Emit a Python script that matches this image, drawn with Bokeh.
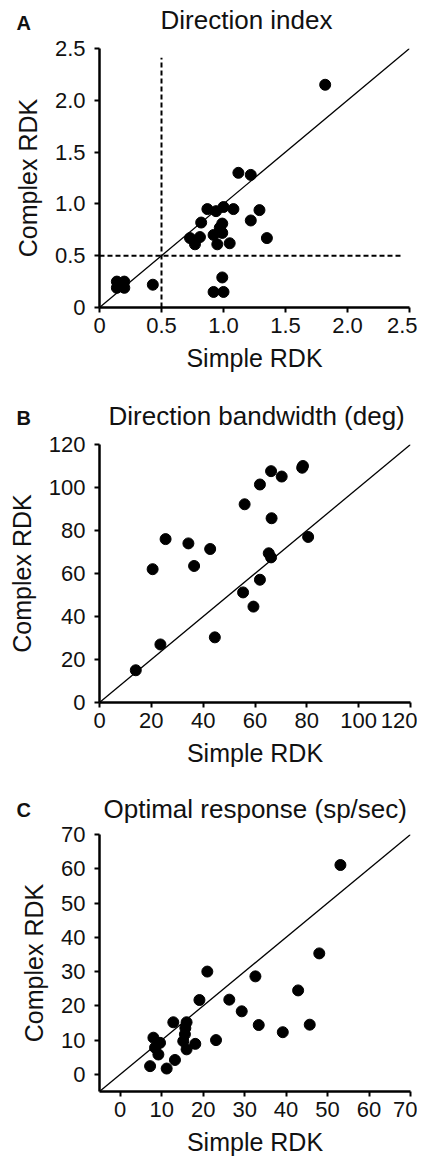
from bokeh.plotting import figure
from bokeh.layouts import column
from bokeh.models import Range1d, FixedTicker, Title
from bokeh.embed import file_html
from bokeh.resources import INLINE

# ---- data ----
A_simple = [1.82, 1.12, 1.22, 0.87, 0.94, 1.00, 1.08, 1.29, 0.82, 0.99, 1.22, 0.97,
            0.73, 0.81, 0.77, 0.92, 0.99, 0.95, 1.05, 1.35, 0.99, 0.92, 1.00, 0.43,
            0.14, 0.20, 0.14, 0.20]
A_complex = [2.15, 1.30, 1.28, 0.95, 0.93, 0.97, 0.95, 0.94, 0.82, 0.81, 0.84, 0.77,
             0.67, 0.68, 0.61, 0.70, 0.72, 0.61, 0.62, 0.67, 0.29, 0.15, 0.15, 0.22,
             0.25, 0.25, 0.19, 0.19]

B_simple = [14.0, 23.5, 20.5, 25.5, 34.3, 36.5, 42.7, 44.5, 55.4, 56.0, 59.4, 61.9,
            61.9, 65.3, 66.2, 66.4, 66.2, 70.3, 78.5, 78.2, 80.5]
B_complex = [15.0, 27.0, 62.0, 76.0, 74.0, 63.5, 71.4, 30.3, 51.2, 92.2, 44.6, 57.1,
             101.4, 69.4, 67.5, 85.7, 107.6, 105.1, 110.0, 109.2, 77.0]

C_simple = [53.1, 48.0, 42.9, 45.7, 39.2, 33.4, 32.6, 29.3, 26.3, 23.1, 21.0, 19.1,
            18.1, 16.0, 15.7, 15.6, 15.2, 16.0, 12.8, 13.2, 11.2, 8.0, 9.6, 8.4, 9.2, 7.2]
C_complex = [61.1, 35.3, 24.5, 14.5, 12.3, 14.4, 28.6, 18.4, 21.8, 10.0, 30.0, 21.7,
             8.9, 15.2, 13.5, 11.7, 9.7, 7.3, 15.2, 4.2, 1.7, 10.7, 9.2, 7.8, 5.8, 2.4]

A_ticks = [0, 0.5, 1.0, 1.5, 2.0, 2.5]
A_labels = ["0", "0.5", "1.0", "1.5", "2.0", "2.5"]
B_ticks = [0, 20, 40, 60, 80, 100, 120]
C_ticks = [0, 10, 20, 30, 40, 50, 60, 70]

titles = ["Direction index", "Direction bandwidth (deg)", "Optimal response (sp/sec)"]
letters = ["A", "B", "C"]

FONT = "Liberation Sans"
W = 417


def make_fig(xr, yr, fw, fh, left, top, bottom, ticks, title, t_offset, t_standoff,
             letter, l_standoff, labels=None):
    p = figure(x_range=Range1d(*xr), y_range=Range1d(*yr),
               frame_width=fw, frame_height=fh,
               min_border_left=left, min_border_right=W - left - fw,
               min_border_top=top, min_border_bottom=bottom,
               output_backend="svg", toolbar_location=None)
    p.outline_line_color = None
    p.xgrid.visible = False
    p.ygrid.visible = False
    # main title (an empty second line keeps the first line high above the frame)
    p.add_layout(Title(text=title + "\n", align="left", offset=t_offset, standoff=t_standoff,
                       text_font=FONT, text_font_size="26px", text_font_style="normal",
                       text_color="#111111"), "above")
    # panel letter (outermost title)
    p.title.text = letter
    p.title.align = "left"
    p.title.offset = -83
    p.title.standoff = l_standoff
    p.title.text_font = FONT
    p.title.text_font_size = "20px"
    p.title.text_font_style = "bold"
    p.title.text_color = "#111111"
    for ax in (p.xaxis[0], p.yaxis[0]):
        ax.ticker = FixedTicker(ticks=ticks)
        if labels is not None:
            ax.major_label_overrides = {t: l for t, l in zip(ticks, labels)}
        ax.axis_line_width = 2.5
        ax.axis_line_color = "black"
        ax.major_tick_line_width = 2
        ax.major_tick_line_color = "black"
        ax.major_tick_out = 5
        ax.major_tick_in = 0
        ax.minor_tick_line_color = None
        ax.major_label_text_font = FONT
        ax.major_label_text_font_size = "22px"
        ax.major_label_text_color = "#111111"
        ax.axis_label_text_font = FONT
        ax.axis_label_text_font_size = "25px"
        ax.axis_label_text_font_style = "normal"
        ax.axis_label_text_color = "#111111"
    p.xaxis.axis_label = "Simple RDK"
    p.yaxis.axis_label = "Complex RDK"
    p.xaxis.major_label_standoff = 5
    p.yaxis.major_label_standoff = 9
    p.xaxis.axis_label_standoff = 8
    p.yaxis.axis_label_standoff = 10
    return p


# ---- Panel A ----
xrA = (0, 2.5)
pA = make_fig(xrA, xrA, 310, 259, 98, 48, 80, A_ticks, titles[0], 61, -33,
              letters[0], -28, A_labels)
pA.line([xrA[0], xrA[1]], [xrA[0], xrA[1]], line_color="black", line_width=1.3)
pA.line([0.5, 0.5], [0, 2.41], line_color="black", line_width=2, line_dash="5 3")
pA.line([0, 2.45], [0.5, 0.5], line_color="black", line_width=2, line_dash="5 3")
pA.scatter(A_simple, A_complex, size=11, color="black")

# ---- Panel B ----
xrB = (0, 120)
pB = make_fig(xrB, xrB, 311, 258, 99, 57, 72, B_ticks, titles[1], 9, -32,
              letters[1], -28)
pB.line([xrB[0], xrB[1]], [xrB[0], xrB[1]], line_color="black", line_width=1.3)
pB.scatter(B_simple, B_complex, size=11, color="black")

# ---- Panel C ----
xrC = (-5, 70)
pC = make_fig(xrC, xrC, 311, 257, 98, 60, 58, C_ticks, titles[2], 4, -38,
              letters[2], -20)
pC.line([xrC[0], xrC[1]], [xrC[0], xrC[1]], line_color="black", line_width=1.3)
pC.scatter(C_simple, C_complex, size=11, color="black")

layout = column(pA, pB, pC, spacing=0)
open("out.html", "w").write(file_html(layout, INLINE))
